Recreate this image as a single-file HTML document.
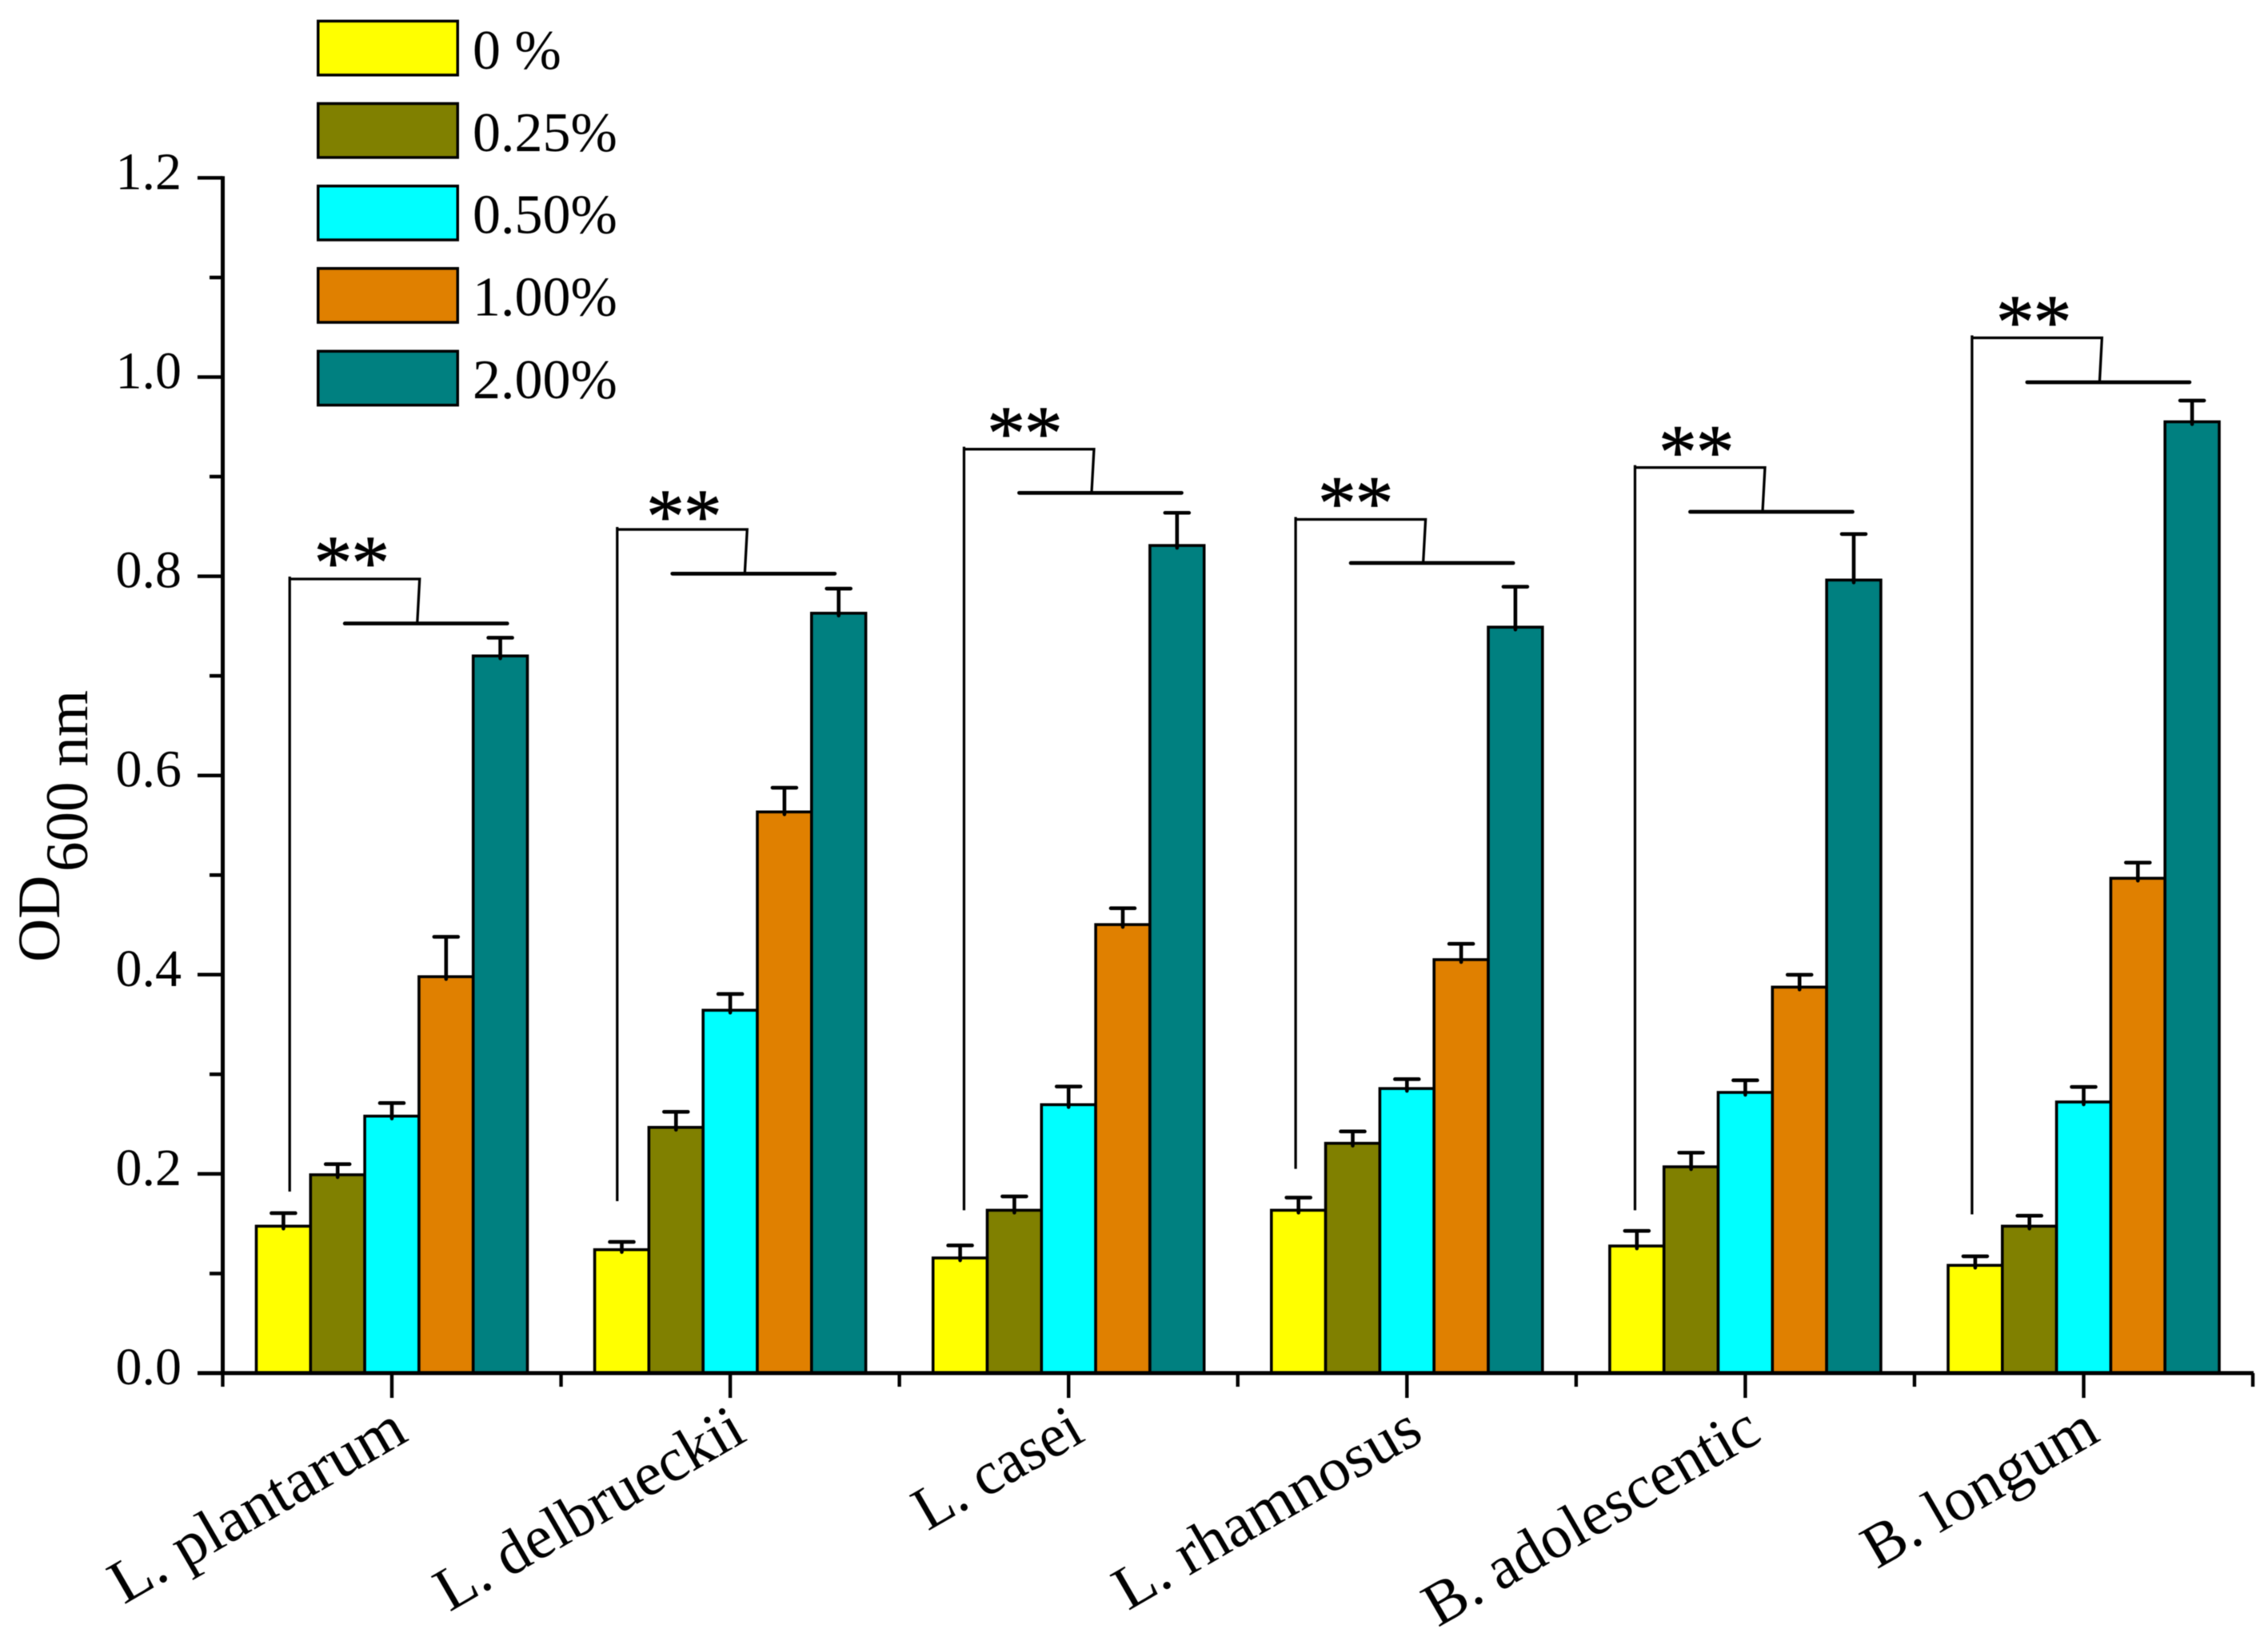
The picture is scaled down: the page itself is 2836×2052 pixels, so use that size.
<!DOCTYPE html>
<html lang="en">
<head>
<meta charset="utf-8">
<title>OD600 bar chart</title>
<style>
html,body{margin:0;padding:0;background:#fff;}
svg{display:block;font-family:"Liberation Serif",serif;fill:#000;filter:blur(0.6px);}
</style>
</head>
<body>
<svg id="chart" xmlns="http://www.w3.org/2000/svg" width="2836" height="2052" viewBox="0 0 2836 2052">
  <rect x="0" y="0" width="2836" height="2052" fill="#fff"/>
  <g id="marks"></g>
  <g id="brackets"></g>
  <g id="axes"></g>

  <g font-size="75">
    <text transform="translate(74 1203) rotate(-90)">OD</text>
    <text transform="translate(109 1090) rotate(-90)">600 nm</text>
  </g>

  <g font-size="70" stroke-linejoin="miter">
    <g>
      <rect x="397.75" y="26.4" width="174.5" height="67.4" fill="#ffff00" stroke="#000" stroke-width="3.5"/>
      <text x="591" y="86">0 %</text>
    </g>
    <g>
      <rect x="397.75" y="129.5" width="174.5" height="67.4" fill="#808000" stroke="#000" stroke-width="3.5"/>
      <text x="591" y="188.8">0.25%</text>
    </g>
    <g>
      <rect x="397.75" y="232.6" width="174.5" height="67.4" fill="#00ffff" stroke="#000" stroke-width="3.5"/>
      <text x="591" y="291.6">0.50%</text>
    </g>
    <g>
      <rect x="397.75" y="335.7" width="174.5" height="67.4" fill="#e08000" stroke="#000" stroke-width="3.5"/>
      <text x="591" y="394.6">1.00%</text>
    </g>
    <g>
      <rect x="397.75" y="439.2" width="174.5" height="67.4" fill="#008080" stroke="#000" stroke-width="3.5"/>
      <text x="591" y="497.8">2.00%</text>
    </g>
  </g>
</svg>

<script>
const categories = ["L. plantarum", "L. delbrueckii", "L. casei", "L. rhamnosus", "B. adolescentic", "B. longum"];
const yTickLabels = ["0.0", "0.2", "0.4", "0.6", "0.8", "1.0", "1.2"];

const seriesKeys = ["0-percent", "0.25-percent", "0.50-percent", "1.00-percent", "2.00-percent"];
const seriesColors = ["#ffff00", "#808000", "#00ffff", "#e08000", "#008080"];

const values0 = [0.1475, 0.1239, 0.1156, 0.1635, 0.1276, 0.1082];
const values025 = [0.1991, 0.2467, 0.1635, 0.2307, 0.2071, 0.1475];
const values050 = [0.2580, 0.3643, 0.2695, 0.2857, 0.2818, 0.2722];
const values100 = [0.3980, 0.5634, 0.4503, 0.4151, 0.3875, 0.4968];
const values200 = [0.7200, 0.7629, 0.8309, 0.7489, 0.7962, 0.9551];

const errors0 = [0.0131, 0.0078, 0.0126, 0.0127, 0.0152, 0.0091];
const errors025 = [0.0107, 0.0156, 0.0139, 0.0119, 0.0142, 0.0105];
const errors050 = [0.0131, 0.0163, 0.0182, 0.0094, 0.0122, 0.0151];
const errors100 = [0.0400, 0.0243, 0.0164, 0.0159, 0.0124, 0.0157];
const errors200 = [0.0183, 0.0247, 0.0328, 0.0406, 0.0462, 0.0213];

const bracketTop = [0.7973, 0.8470, 0.9276, 0.8571, 0.9092, 1.0394];
const bracketLower = [0.7526, 0.8026, 0.8837, 0.8133, 0.8647, 0.9948];
const bracketBottom = [0.1823, 0.1726, 0.1635, 0.2050, 0.1635, 0.1594];
const bracketLeftOffset = [-0.302, -0.334, -0.309, -0.329, -0.326, -0.330];
const starCenterOffset = [0.182, 0.196, 0.178, 0.176, 0.180, 0.181];
const starHeightAboveTop = [0.0265, 0.0233, 0.0262, 0.0266, 0.0257, 0.0261];
const labelWidthScale = [1.04, 1, 0.96, 1.024, 1, 1];

const allValues = [values0, values025, values050, values100, values200];
const allErrors = [errors0, errors025, errors050, errors100, errors200];

const NS = "http://www.w3.org/2000/svg";
const yZero = 1717, yUnit = 1245.5;
const xFirst = 490, xStep = 423.1;
const barWidth = 67.8;
const axisLeft = 278.5, xAxisEnd = 2816;

function yScale(v) { return yZero - v * yUnit; }
function xScale(c) { return xFirst + c * xStep; }

function makeEl(tag, attrs, parent) {
  const el = document.createElementNS(NS, tag);
  for (const k in attrs) el.setAttribute(k, attrs[k]);
  parent.appendChild(el);
  return el;
}

const marks = document.getElementById("marks");
const brackets = document.getElementById("brackets");
const axes = document.getElementById("axes");

/* bars */
categories.forEach(function (cat, c) {
  const slug = cat.toLowerCase().replace(/[^a-z]+/g, "-");
  const groupLeft = xScale(c) - barWidth * seriesKeys.length / 2;
  seriesKeys.forEach(function (key, s) {
    const v = allValues[s][c];
    const rect = makeEl("rect", {
      x: groupLeft + s * barWidth,
      y: yScale(v),
      width: barWidth,
      height: yScale(0) - yScale(v),
      fill: seriesColors[s],
      stroke: "#000",
      "stroke-width": 3.6
    }, marks);
    
    
  });
});

/* error bars */
categories.forEach(function (cat, c) {
  const slug = cat.toLowerCase().replace(/[^a-z]+/g, "-");
  const groupLeft = xScale(c) - barWidth * seriesKeys.length / 2;
  seriesKeys.forEach(function (key, s) {
    const v = allValues[s][c];
    const e = allErrors[s][c];
    const cx = groupLeft + (s + 0.5) * barWidth;
    const top = yScale(v + e);
    const path = makeEl("path", {
      d: "M" + cx + " " + (yScale(v) + 3) + "V" + top + "M" + (cx - 15) + " " + top + "H" + (cx + 15),
      fill: "none",
      stroke: "#000",
      "stroke-width": 4.6,
      "stroke-linecap": "round"
    }, marks);
    
    
  });
});

/* significance brackets */
categories.forEach(function (cat, c) {
  const slug = cat.toLowerCase().replace(/[^a-z]+/g, "-");
  const left = xScale(c + bracketLeftOffset[c]);
  const top = yScale(bracketTop[c]);
  const lower = yScale(bracketLower[c]);
  const bottom = yScale(bracketBottom[c]);

  const outline = makeEl("path", {
    d: "M" + left + " " + bottom + "V" + (top - 3) + "M" + left + " " + top + "H" + (left + 162.5) + "L" + (left + 159.5) + " " + lower,
    fill: "none",
    stroke: "#000",
    "stroke-width": 3.3,
    "stroke-linejoin": "miter"
  }, brackets);
  
  

  const bar = makeEl("line", {
    x1: left + 69, x2: left + 272, y1: lower, y2: lower,
    stroke: "#000",
    "stroke-width": 4.8,
    "stroke-linecap": "round"
  }, brackets);
  
  

  const stars = makeEl("text", {
    x: xScale(c + bracketLeftOffset[c] + starCenterOffset[c]),
    y: yScale(bracketTop[c] + starHeightAboveTop[c]) + 45,
    "text-anchor": "middle",
    "font-size": 96,
    "letter-spacing": -1.3,
    stroke: "#000",
    "stroke-width": 0.8
  }, brackets);
  stars.textContent = "**";
  
  
});

/* y axis */
const yAxisLine = makeEl("line", {
  x1: axisLeft, x2: axisLeft, y1: yScale(1.2) - 2.2, y2: yZero + 2,
  stroke: "#000", "stroke-width": 5
}, axes);



yTickLabels.forEach(function (label, i) {
  const v = parseFloat(label);
  const y = yScale(v);
  const major = makeEl("line", {
    x1: 247, x2: axisLeft, y1: y, y2: y, stroke: "#000", "stroke-width": 4.5
  }, axes);
  
  

  const text = makeEl("text", {
    x: 227, y: y + 14, "text-anchor": "end", "font-size": 66
  }, axes);
  text.textContent = label;
  
  

  if (i < yTickLabels.length - 1) {
    const minorY = yScale(v + 0.1);
    const minor = makeEl("line", {
      x1: 262, x2: axisLeft, y1: minorY, y2: minorY, stroke: "#000", "stroke-width": 4.5
    }, axes);
    
    
  }
});

/* x axis */
const xAxisLine = makeEl("line", {
  x1: 247, x2: xAxisEnd + 2, y1: yZero, y2: yZero,
  stroke: "#000", "stroke-width": 5
}, axes);



categories.forEach(function (cat, c) {
  const slug = cat.toLowerCase().replace(/[^a-z]+/g, "-");
  const x = xScale(c);

  const major = makeEl("line", {
    x1: x, x2: x, y1: yZero, y2: 1748, stroke: "#000", "stroke-width": 4.4
  }, axes);
  
  

  const minorLeftX = xScale(c - 0.5);
  const minorLeft = makeEl("line", {
    x1: minorLeftX, x2: minorLeftX, y1: yZero, y2: 1734, stroke: "#000", "stroke-width": 4.4
  }, axes);
  
  

  const label = makeEl("text", {
    transform: "translate(" + (x + 23) + " 1800) rotate(-30) scale(" + labelWidthScale[c] + " 1)",
    "text-anchor": "end",
    "font-size": 77
  }, axes);
  label.textContent = cat;
  
  
});

const lastMinorX = xScale(categories.length - 0.5);
const lastMinor = makeEl("line", {
  x1: lastMinorX, x2: lastMinorX, y1: yZero, y2: 1734, stroke: "#000", "stroke-width": 4.4
}, axes);


</script>
</body>
</html>
